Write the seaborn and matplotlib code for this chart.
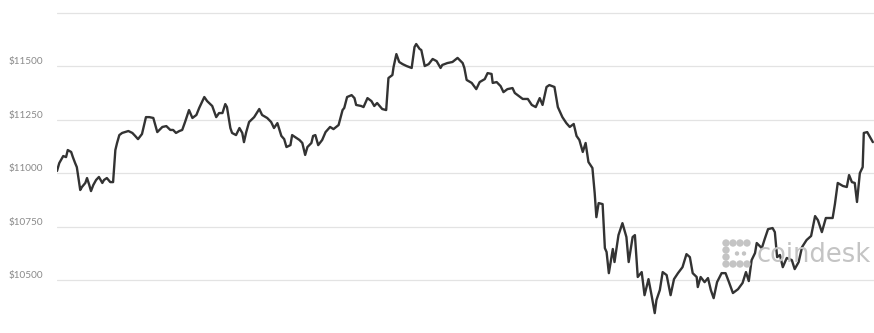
import numpy as np
import pandas as pd
import matplotlib
matplotlib.use("Agg")
import matplotlib.pyplot as plt
import matplotlib.transforms as mtransforms
from matplotlib.patches import Circle
import seaborn as sns

# time in minutes since start of window (24h)
minutes = [0, 4, 11, 16, 19, 25, 28, 32, 35, 41, 44, 50, 53, 57, 60, 64, 69, 74, 80, 83,
           88, 94, 99, 103, 106, 110, 115, 120, 126, 133, 138, 143, 150, 157, 163, 170, 177,
           186, 193, 200, 205, 210, 216, 221, 226, 233, 239, 246, 251, 260, 265, 274, 281,
           286, 292, 297, 300, 306, 309, 316, 322, 327, 330, 334, 339, 348, 357, 362, 371,
           378, 383, 389, 396, 401, 405, 412, 415, 428, 433, 438, 442, 449, 452, 456, 461,
           468, 474, 482, 488, 497, 504, 507, 512, 520, 525, 528, 537, 541, 548, 555, 560,
           565, 574, 581, 585, 592, 594, 599, 604, 610, 617, 626, 631, 634, 640, 643, 649,
           656, 663, 670, 677, 680, 689, 698, 707, 716, 719, 723, 732, 740, 746, 755, 760,
           767, 769, 776, 783, 788, 795, 804, 808, 815, 822, 831, 838, 845, 852, 857, 864,
           869, 878, 884, 892, 899, 905, 912, 917, 922, 928, 933, 938, 945, 949, 952, 956,
           963, 967, 970, 974, 981, 984, 991, 998, 1005, 1009, 1016, 1020, 1025, 1032, 1037,
           1044, 1050, 1055, 1058, 1064, 1069, 1076, 1083, 1089, 1096, 1104, 1111, 1117,
           1122, 1129, 1131, 1136, 1143, 1149, 1154, 1159, 1165, 1173, 1180, 1186, 1193,
           1202, 1210, 1216, 1221, 1226, 1232, 1235, 1244, 1249, 1255, 1263, 1267, 1271,
           1276, 1281, 1288, 1297, 1302, 1309, 1315, 1323, 1331, 1338, 1343, 1350, 1357,
           1369, 1373, 1378, 1387, 1394, 1398, 1403, 1408, 1412, 1417, 1422, 1424, 1430,
           1435, 1440]

price = [11011, 11048, 11081, 11076, 11109, 11100, 11076, 11048, 11029, 10922, 10936, 10955,
         10978, 10945, 10917, 10945, 10969, 10983, 10955, 10969, 10978, 10959, 10959, 11109,
         11142, 11179, 11189, 11193, 11198, 11189, 11175, 11160, 11184, 11263, 11263, 11259,
         11193, 11217, 11221, 11203, 11203, 11189, 11198, 11203, 11240, 11296, 11259, 11273,
         11306, 11357, 11338, 11315, 11263, 11282, 11282, 11324, 11310, 11212, 11189, 11179,
         11212, 11189, 11146, 11193, 11240, 11263, 11301, 11273, 11259, 11240, 11212, 11235,
         11175, 11160, 11123, 11132, 11179, 11156, 11142, 11086, 11123, 11142, 11175, 11179,
         11132, 11156, 11193, 11217, 11207, 11226, 11296, 11306, 11357, 11366, 11352, 11320,
         11315, 11310, 11352, 11338, 11315, 11329, 11301, 11296, 11446, 11460, 11497, 11558,
         11521, 11511, 11502, 11493, 11591, 11605, 11582, 11577, 11502, 11511, 11535, 11525,
         11493, 11507, 11516, 11521, 11540, 11516, 11493, 11437, 11423, 11394, 11427, 11441,
         11469, 11465, 11423, 11427, 11408, 11380, 11394, 11399, 11376, 11362, 11348, 11348,
         11320, 11310, 11352, 11320, 11404, 11413, 11404, 11310, 11263, 11235, 11217, 11231,
         11175, 11156, 11100, 11142, 11053, 11025, 10908, 10795, 10861, 10856, 10650, 10632,
         10533, 10646, 10585, 10711, 10767, 10702, 10585, 10702, 10711, 10515, 10538, 10430,
         10505, 10421, 10346, 10407, 10454, 10538, 10524, 10430, 10505, 10533, 10561, 10622,
         10608, 10533, 10515, 10468, 10515, 10491, 10510, 10454, 10416, 10491, 10533, 10533,
         10491, 10440, 10458, 10487, 10538, 10496, 10594, 10627, 10674, 10650, 10692, 10739,
         10744, 10725, 10608, 10618, 10561, 10604, 10594, 10552, 10585, 10655, 10688, 10707,
         10800, 10781, 10725, 10791, 10791, 10856, 10955, 10941, 10936, 10992, 10959, 10955,
         10866, 11001, 11029, 11189, 11193, 11170, 11146]

tick_values = [10500, 10750, 11000, 11250, 11500, 11750]
tick_labels = ["$10500", "$10750", "$11000", "$11250", "$11500", ""]

df = pd.DataFrame({"minute": minutes, "price": price})

sns.set_style("white")
plt.rcParams["font.family"] = ["Lato", "DejaVu Sans"]

fig = plt.figure(figsize=(8.74, 3.33), dpi=100)
ax = fig.add_axes([57 / 874, 0, 1 - 57 / 874, 1])

sns.lineplot(data=df, x="minute", y="price", ax=ax, color="#333333", linewidth=1.7, zorder=3)

ax.set_xlim(0, 1442)
ax.set_ylim(10253, 11811)
ax.set_yticks(tick_values)
ax.set_yticklabels(tick_labels)
ax.set_xticks([])
ax.set_xlabel("")
ax.set_ylabel("")
ax.grid(axis="y", color="#e3e3e3", linewidth=0.9, zorder=0)
ax.grid(axis="x", visible=False)
for s in ax.spines.values():
    s.set_visible(False)
ax.tick_params(axis="y", length=0, pad=10, labelsize=7.2, labelcolor="#8a8a8a")

offset = mtransforms.ScaledTranslation(0, 2 / 100, fig.dpi_scale_trans)
for lab in ax.get_yticklabels():
    lab.set_verticalalignment("baseline")
    lab.set_transform(lab.get_transform() + offset)

# coindesk watermark
fig.text(757 / 874, 1 - 262 / 333, "coindesk", fontsize=18.5, color="#c4c4c4",
         ha="left", va="baseline", family=["DejaVu Sans"], zorder=1)
dots = [(726, 243, 3), (733, 243, 3), (740, 243, 3), (747, 243, 3),
        (726, 250, 3), (726, 257, 3),
        (726, 264, 3), (733, 264, 3), (740, 264, 3), (747, 264, 3),
        (737, 253.5, 1.5), (744, 253.5, 1.5)]
for dx, dy, r in dots:
    fig.add_artist(Circle((dx, 333 - dy), r, transform=None, color="#c4c4c4", zorder=1))

fig.savefig("out.png", dpi=100)
